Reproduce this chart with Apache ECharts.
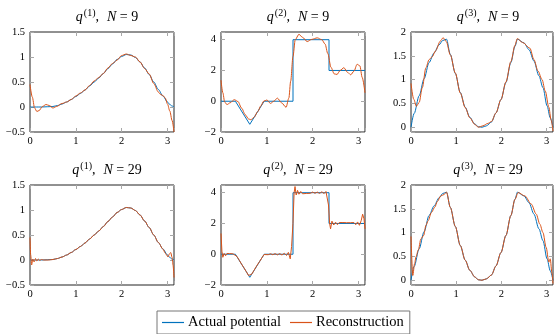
<!DOCTYPE html>
<html lang="en">
  <head>
    <meta charset="UTF-8" />
    <title>Potential reconstruction</title>
    <style>
      body {
        margin: 0;
        background: #fff;
      }
      #main {
        width: 556px;
        height: 334px;
      }
    </style>
  </head>
  <body>
    <div id="main"></div>
    <script src="https://cdn.jsdelivr.net/npm/echarts@6/dist/echarts.min.js"></script>
    <script>
      // actual potentials
      const q1ActX = [0, 0.25, 0.5, 0.6, 0.7, 0.8, 0.9, 1.0, 1.1, 1.2, 1.3, 1.4, 1.5, 1.6, 1.7, 1.8, 1.9, 2.0, 2.1, 2.2, 2.3, 2.4, 2.5, 2.6, 2.7, 2.8, 2.9, 3.0, 3.05, 3.1, 3.1416];
      const q1ActY = [0, 0, 0.01, 0.03, 0.06, 0.1, 0.15, 0.21, 0.27, 0.34, 0.42, 0.5, 0.58, 0.67, 0.77, 0.86, 0.95, 1.01, 1.05, 1.04, 0.99, 0.9, 0.78, 0.65, 0.5, 0.35, 0.22, 0.1, 0.05, 0.02, 0];
      const q2ActX = [0, 0.314, 0.628, 0.942, 1.5708, 1.5708, 2.3562, 2.3562, 3.1416];
      const q2ActY = [0, 0, -1.5, 0, 0, 4, 4, 2, 2];
      const q3ActX = [0, 0.07, 0.18, 0.29, 0.4, 0.51, 0.62, 0.7, 0.785, 0.87, 0.98, 1.09, 1.2, 1.3, 1.41, 1.49, 1.5708, 1.67, 1.78, 1.88, 1.99, 2.1, 2.21, 2.3, 2.356, 2.5, 2.61, 2.72, 2.83, 2.92, 3.01, 3.08, 3.1416];
      const q3ActY = [0, 0.29, 0.66, 1.02, 1.36, 1.56, 1.73, 1.82, 1.85, 1.53, 1.13, 0.73, 0.42, 0.21, 0.07, 0.01, 0, 0.03, 0.11, 0.3, 0.58, 0.94, 1.36, 1.7, 1.85, 1.77, 1.63, 1.39, 1.08, 0.83, 0.45, 0.2, 0];

      // reconstructions, N = 9
      const q1R9X = [0, 0.05, 0.1, 0.15, 0.2, 0.27, 0.35, 0.42, 0.5, 0.58, 0.7, 0.8, 0.9, 1.0, 1.1, 1.2, 1.3, 1.4, 1.5, 1.6, 1.7, 1.8, 1.9, 2.0, 2.1, 2.2, 2.3, 2.4, 2.5, 2.6, 2.7, 2.8, 2.85, 2.9, 2.95, 3.0, 3.05, 3.1, 3.1416];
      const q1R9Y = [0.45, 0.2, -0.02, -0.09, -0.07, 0.01, 0.05, 0.03, -0.02, 0.01, 0.07, 0.1, 0.15, 0.22, 0.28, 0.34, 0.43, 0.52, 0.59, 0.67, 0.78, 0.87, 0.94, 1.03, 1.06, 1.03, 1.0, 0.9, 0.77, 0.66, 0.47, 0.3, 0.25, 0.23, 0.18, 0.06, -0.08, -0.27, -0.5];
      const q2R9X = [0, 0.04, 0.08, 0.13, 0.2, 0.29, 0.37, 0.45, 0.53, 0.6, 0.65, 0.72, 0.8, 0.87, 0.93, 1.0, 1.08, 1.15, 1.23, 1.32, 1.42, 1.48, 1.52, 1.57, 1.62, 1.7, 1.78, 1.88, 1.98, 2.1, 2.2, 2.27, 2.33, 2.4, 2.47, 2.53, 2.6, 2.68, 2.76, 2.83, 2.9, 2.97, 3.03, 3.08, 3.1416];
      const q2R9Y = [1.37, 0.55, -0.05, -0.22, -0.1, 0.1, -0.02, -0.45, -0.88, -1.15, -1.2, -1.05, -0.68, -0.3, 0, 0.08, -0.14, 0, 0.2, -0.1, -0.39, 0.2, 1.3, 2.9, 4.0, 4.35, 4.15, 3.88, 4.02, 4.12, 4.0, 3.72, 3.1, 2.2, 1.78, 1.74, 2.0, 2.18, 1.88, 1.72, 1.95, 2.4, 2.3, 1.55, 0.55];
      const q3R9X = [0, 0.06, 0.12, 0.18, 0.25, 0.33, 0.4, 0.47, 0.54, 0.65, 0.71, 0.78, 0.87, 0.98, 1.09, 1.2, 1.3, 1.41, 1.49, 1.59, 1.7, 1.78, 1.88, 1.99, 2.1, 2.21, 2.3, 2.35, 2.47, 2.63, 2.72, 2.81, 2.9, 2.97, 3.05, 3.1, 3.1416];
      const q3R9Y = [0.92, 0.59, 0.44, 0.52, 0.83, 1.25, 1.42, 1.48, 1.6, 1.81, 1.88, 1.8, 1.52, 1.14, 0.72, 0.41, 0.2, 0.06, 0.0, 0.03, 0.08, 0.12, 0.3, 0.58, 0.95, 1.38, 1.72, 1.86, 1.78, 1.66, 1.42, 1.18, 1.0, 0.76, 0.42, 0.15, -0.08];

      // reconstructions, N = 29
      const q1R29X = [0, 0.015, 0.035, 0.06, 0.09, 0.12, 0.15, 0.18, 0.21, 0.25, 0.3, 0.4, 0.5, 0.6, 0.7, 0.8, 0.9, 1.0, 1.1, 1.2, 1.3, 1.4, 1.5, 1.6, 1.7, 1.8, 1.9, 2.0, 2.1, 2.2, 2.3, 2.4, 2.5, 2.6, 2.7, 2.8, 2.9, 2.95, 2.98, 3.01, 3.04, 3.07, 3.1, 3.12, 3.1416];
      const q1R29Y = [0.45, 0.1, -0.1, 0.02, -0.04, 0.03, -0.02, 0.02, -0.01, 0.01, 0, 0, 0.01, 0.03, 0.06, 0.1, 0.15, 0.21, 0.27, 0.34, 0.42, 0.5, 0.58, 0.67, 0.77, 0.86, 0.95, 1.01, 1.05, 1.04, 0.99, 0.9, 0.78, 0.65, 0.5, 0.35, 0.22, 0.14, 0.1, 0.06, 0.12, 0.15, 0.05, -0.1, -0.35];
      const q2R29X = [0, 0.02, 0.04, 0.07, 0.1, 0.13, 0.16, 0.19, 0.22, 0.26, 0.3, 0.35, 0.4, 0.45, 0.5, 0.55, 0.6, 0.63, 0.67, 0.72, 0.78, 0.84, 0.9, 0.94, 0.98, 1.03, 1.08, 1.13, 1.18, 1.23, 1.28, 1.33, 1.38, 1.43, 1.47, 1.51, 1.54, 1.57, 1.595, 1.615, 1.64, 1.67, 1.7, 1.74, 1.78, 1.82, 1.86, 1.9, 1.95, 2.0, 2.05, 2.1, 2.15, 2.2, 2.25, 2.29, 2.32, 2.345, 2.37, 2.39, 2.42, 2.46, 2.5, 2.54, 2.58, 2.62, 2.66, 2.7, 2.74, 2.78, 2.82, 2.86, 2.9, 2.94, 2.98, 3.02, 3.06, 3.09, 3.12, 3.1416];
      const q2R29Y = [1.35, 0.2, -0.2, 0.05, -0.1, 0.05, -0.05, 0.04, -0.03, 0.03, 0, -0.15, -0.4, -0.65, -0.88, -1.12, -1.38, -1.48, -1.3, -1.05, -0.75, -0.48, -0.2, -0.02, 0.03, -0.03, 0.03, -0.03, 0.04, -0.04, 0.04, -0.05, 0.06, -0.08, 0.12, -0.3, 0.5, 2.0, 4.0, 4.4, 3.85, 4.15, 3.9, 4.08, 3.93, 4.06, 3.95, 4.05, 3.96, 4.04, 3.96, 4.04, 3.95, 4.06, 3.94, 4.08, 4.15, 3.2, 2.0, 1.65, 2.15, 1.9, 2.08, 1.92, 2.06, 1.94, 2.06, 1.94, 2.05, 1.95, 2.05, 1.94, 2.06, 1.92, 2.1, 1.88, 2.2, 2.6, 2.3, 1.65];
      const q3R29X = [0, 0.04, 0.08, 0.11, 0.16, 0.22, 0.28, 0.33, 0.38, 0.45, 0.53, 0.58, 0.66, 0.73, 0.785, 0.87, 0.98, 1.09, 1.2, 1.3, 1.41, 1.49, 1.5708, 1.67, 1.78, 1.88, 1.99, 2.1, 2.21, 2.3, 2.37, 2.52, 2.66, 2.77, 2.85, 2.92, 2.99, 3.05, 3.08, 3.12, 3.1416];
      const q3R29Y = [0.92, 0.1, 0.35, 0.49, 0.63, 0.87, 0.94, 1.15, 1.25, 1.42, 1.54, 1.65, 1.77, 1.8, 1.85, 1.53, 1.13, 0.73, 0.42, 0.21, 0.07, 0.01, 0, 0.03, 0.11, 0.3, 0.58, 0.94, 1.36, 1.7, 1.84, 1.77, 1.6, 1.39, 1.18, 1.0, 0.69, 0.38, 0.45, 0.14, -0.07];

      // panel titles: potential index and N
      const potIdx = [1, 2, 3, 1, 2, 3];
      const nVals = [9, 9, 9, 29, 29, 29];

      const font = "Liberation Serif";
      const blue = "#0072BD";
      const orange = "#D95319";

      const pairs = (xs, ys) => xs.map((x, i) => [x, ys[i]]);
      const minus = (s) => String(s).replace("-", "\u2212");

      const panels = [
        [q1ActX, q1ActY, q1R9X, q1R9Y],
        [q2ActX, q2ActY, q2R9X, q2R9Y],
        [q3ActX, q3ActY, q3R9X, q3R9Y],
        [q1ActX, q1ActY, q1R29X, q1R29Y],
        [q2ActX, q2ActY, q2R29X, q2R29Y],
        [q3ActX, q3ActY, q3R29X, q3R29Y],
      ];

      const lefts = [30, 221, 411];
      const tops = [32, 185];
      const yCfg = [
        { min: -0.5, max: 1.5, interval: 0.5 },
        { min: -2, max: 4.5, interval: 2 },
        { min: -0.1, max: 2, splitNumber: 4 },
      ];

      const grid = [], xAxis = [], yAxis = [], series = [], title = [];
      const tick = { inside: true, length: 4, lineStyle: { color: "#a8a8a8" } };
      const noLine = { show: false, onZero: false };
      const lbl = { fontFamily: font, fontSize: 10.5, color: "#000" };

      panels.forEach((p, i) => {
        const c = i % 3, r = Math.floor(i / 3);
        grid.push({
          left: lefts[c], top: tops[r], width: 144, height: 100,
          show: true, borderColor: "#222", borderWidth: 1,
        });
        const xb = {
          gridIndex: i, type: "value", min: 0, max: Math.PI, interval: 1,
          axisLine: noLine, splitLine: { show: false }, axisTick: tick,
        };
        xAxis.push(Object.assign({}, xb, {
          position: "bottom",
          axisLabel: Object.assign({}, lbl, {
            margin: 4,
            formatter: (v) => (Number.isInteger(v) ? String(v) : ""),
          }),
        }));
        xAxis.push(Object.assign({}, xb, { position: "top", axisLabel: { show: false } }));
        const yb = Object.assign({
          gridIndex: i, type: "value",
          axisLine: noLine, splitLine: { show: false }, axisTick: tick,
        }, yCfg[c]);
        const step = yCfg[c].interval || 0.5;
        yAxis.push(Object.assign({}, yb, {
          position: "left",
          axisLabel: Object.assign({}, lbl, {
            margin: 5,
            formatter: (v) => (Math.abs(v / step - Math.round(v / step)) < 1e-6 ? minus(v) : ""),
          }),
        }));
        yAxis.push(Object.assign({}, yb, { position: "right", axisLabel: { show: false } }));

        title.push({
          text: "{i|q}{s|(" + potIdx[i] + ")}{n|,}{g|}{i|N}{n| = " + nVals[i] + "}",
          left: lefts[c] + 72,
          textAlign: "center",
          top: tops[r] - 29,
          textStyle: {
            fontWeight: "normal",
            rich: {
              i: { fontFamily: font, fontStyle: "italic", fontWeight: "normal", fontSize: 14, color: "#000" },
              s: { fontFamily: font, fontWeight: "normal", fontSize: 10, color: "#000", padding: [0, 0, 8, 1] },
              n: { fontFamily: font, fontWeight: "normal", fontSize: 14, color: "#000" },
              g: { width: 8 },
            },
          },
        });

        const common = {
          type: "line", xAxisIndex: 2 * i, yAxisIndex: 2 * i,
          showSymbol: false, symbol: "none", animation: false,
        };
        series.push(Object.assign({}, common, {
          name: "Actual potential",
          data: pairs(p[0], p[1]),
          smooth: c === 1 ? false : 0.3,
          smoothMonotone: "x",
          lineStyle: { color: blue, width: 1 },
          itemStyle: { color: blue },
        }));
        series.push(Object.assign({}, common, {
          name: "Reconstruction",
          data: pairs(p[2], p[3]),
          smooth: r === 1 && c === 1 ? false : 0.3,
          smoothMonotone: "x",
          lineStyle: { color: orange, width: 1 },
          itemStyle: { color: orange },
        }));
      });

      const myChart = echarts.init(document.getElementById("main"));
      myChart.setOption({
        animation: false,
        title: title,
        grid: grid,
        xAxis: xAxis,
        yAxis: yAxis,
        series: series,
        legend: {
          data: [
            { name: "Actual potential", icon: "rect", itemStyle: { color: blue, borderWidth: 0 } },
            { name: "Reconstruction", icon: "rect", itemStyle: { color: orange, borderWidth: 0 } },
          ],
          left: 157,
          top: 311,
          itemWidth: 22,
          itemHeight: 1.2,
          itemGap: 9,
          padding: [4, 6, 4, 5],
          borderColor: "#777",
          borderWidth: 1,
          textStyle: { fontFamily: font, fontSize: 14.5, color: "#000", padding: [0, 0, 0, -1] },
        },
      });
    </script>
  </body>
</html>
